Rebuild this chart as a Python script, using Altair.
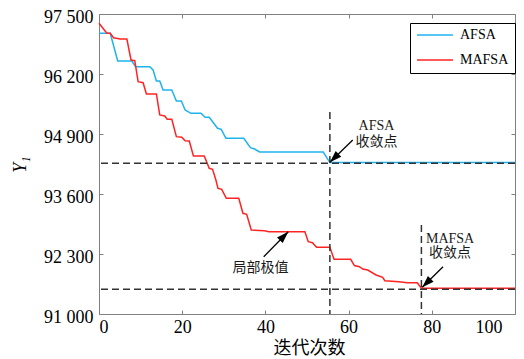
import math
import altair as alt
import pandas as pd

# ---------------- data ----------------
series_names = ["AFSA", "MAFSA"]
series_colors = ["#1FB3EE", "#FF2323"]

afsa_iter = [0, 2.7, 4.5, 7.9, 8.8, 12.2, 13.0, 13.8, 14.6, 15.4, 17.5, 18.6, 19.8, 20.7,
             22.1, 24.5, 25.5, 26.5, 28.5, 29.4, 30.5, 34.8, 36.4, 37.4, 38.6, 53.9, 55.5, 100]
afsa_val = [97082, 97082, 96482, 96482, 96358, 96358, 96287, 96048, 96048, 95853, 95853, 95615,
            95615, 95420, 95348, 95348, 95262, 95262, 95023, 95000, 94807, 94807, 94603, 94575,
            94510, 94510, 94280, 94280]

mafsa_iter = [0, 1.9, 2.7, 3.5, 5.1, 6.7, 7.7, 8.6, 9.4, 10.6, 11.4, 13.8, 14.6, 15.8, 16.4,
              17.5, 18.6, 19.9, 20.7, 21.7, 22.7, 25.3, 26.5, 27.3, 28.1, 28.6, 29.5, 30.6,
              33.6, 34.6, 35.5, 36.6, 39.8, 40.8, 49.5, 50.3, 51.3, 52.3, 55.5, 56.5, 60.5,
              61.4, 62.6, 63.4, 64.6, 66.6, 68.2, 68.7, 72.1, 74.1, 76.5, 77.5, 100]
mafsa_val = [97300, 97082, 97082, 96986, 96958, 96958, 96503, 96488, 96033, 96011, 95767, 95767,
             95312, 95290, 95218, 95218, 94842, 94829, 94755, 94748, 94423, 94423, 94157, 94135,
             93903, 93723, 93702, 93507, 93507, 93182, 93160, 92820, 92805, 92783, 92783, 92567,
             92545, 92445, 92445, 92185, 92185, 92050, 92025, 91975, 91953, 91845, 91795, 91722,
             91700, 91678, 91678, 91560, 91560]

x_ticks = [0, 20, 40, 60, 80, 100]
y_ticks = [91000, 92300, 93600, 94900, 96200, 97500]

hline_vals = [94265, 91535]
vline_iters = [55.5, 77.5]
vline_tops = [95377, 92928]

ann_text = ["AFSA", "收敛点", "局部极值", "MAFSA", "收敛点"]
ann_x = [66.7, 66.7, 38.8, 84.4, 84.4]
ann_y = [95073, 94733, 91997, 92618, 92315]

arrow_x0 = [61.0, 39.6, 82.7]
arrow_y0 = [94770, 92241, 92025]
arrow_x1 = [55.5, 45.5, 77.7]
arrow_y1 = [94287, 92783, 91578]

x_title = "迭代次数"
y_title = "Y₁"

# ---------------- styling ----------------
W, H = 416, 300
SERIF = "Liberation Serif, Noto Sans CJK SC"
GRAY = "#808080"
DASH = "#333333"

xs = alt.Scale(domain=[x_ticks[0], x_ticks[-1]], nice=False, zero=False)
ys = alt.Scale(domain=[y_ticks[0], y_ticks[-1]], nice=False, zero=False)

px_x = W / (x_ticks[-1] - x_ticks[0])
px_y = H / (y_ticks[-1] - y_ticks[0])
angles = []
for a0, b0, a1, b1 in zip(arrow_x0, arrow_y0, arrow_x1, arrow_y1):
    angles.append(math.degrees(math.atan2((a1 - a0) * px_x, (b1 - b0) * px_y)) % 360)

lines_df = pd.DataFrame({
    "iter": afsa_iter + mafsa_iter,
    "value": afsa_val + mafsa_val,
    "series": [series_names[0]] * len(afsa_iter) + [series_names[1]] * len(mafsa_iter),
})
vr_df = pd.DataFrame({"iter": vline_iters, "top": vline_tops,
                      "bottom": [y_ticks[0]] * len(vline_iters)})
hr_df = pd.DataFrame({"value": hline_vals})
ann_df = pd.DataFrame({"label": ann_text, "x": ann_x, "y": ann_y})
arr_df = pd.DataFrame({"x0": arrow_x0, "y0": arrow_y0, "x1": arrow_x1, "y1": arrow_y1,
                       "angle": angles})

lines = alt.Chart(lines_df).mark_line(strokeWidth=1.5).encode(
    x=alt.X("iter:Q", scale=xs, axis=alt.Axis(
        orient="bottom", values=x_ticks, ticks=False, tickSize=0, domain=False, grid=False,
        labelFont=SERIF, labelFontSize=18, labelColor="black", labelPadding=4,
        labelOffset={"condition": {"test": "datum.value == 100", "value": -13}, "value": 0},
        title=x_title, titleFont=SERIF, titleFontSize=18, titleFontWeight="normal",
        titleColor="black", titleX=210, titleY=34, titleBaseline="middle")),
    y=alt.Y("value:Q", scale=ys, axis=alt.Axis(
        orient="left", values=y_ticks, ticks=False, tickSize=0, domain=False, grid=False,
        labelExpr="replace(format(datum.value, ',d'), ',', ' ')",
        labelFont=SERIF, labelFontSize=18, labelColor="black", labelPadding=6, labelOffset=3,
        title=y_title, titleFont=SERIF, titleFontSize=18, titleFontWeight="normal",
        titleFontStyle="italic", titleColor="black", titleX=-79, titleY=150,
        titleBaseline="middle", titleAlign="center")),
    color=alt.Color("series:N", scale=alt.Scale(domain=series_names, range=series_colors),
                    legend=alt.Legend(
                        title=None, orient="none", legendX=311, legendY=9,
                        direction="vertical", symbolType="stroke", symbolSize=1296,
                        symbolStrokeWidth=1.5, labelFont=SERIF, labelFontSize=14,
                        labelColor="black", labelOffset=6, strokeColor="black",
                        fillColor="white", padding=6, clipHeight=12, rowPadding=11)),
)

vrules = alt.Chart(vr_df).mark_rule(strokeDash=[7, 4], strokeWidth=1.5, color=DASH).encode(
    x=alt.X("iter:Q", scale=xs, axis=alt.Axis(
        orient="top", offset=-H, values=x_ticks, labels=False, domain=False, grid=False,
        ticks=True, tickSize=4, tickColor=GRAY, title="")),
    y=alt.Y("top:Q", scale=ys, axis=alt.Axis(
        orient="right", offset=-W, values=y_ticks, labels=False, domain=False, grid=False,
        ticks=True, tickSize=4, tickColor=GRAY, title="")),
    y2="bottom:Q",
)

hrules = alt.Chart(hr_df).mark_rule(strokeDash=[7, 4], strokeWidth=1.5, color=DASH).encode(
    y=alt.Y("value:Q", scale=ys, axis=None),
)

arrow_lines = alt.Chart(arr_df).mark_rule(strokeWidth=1.3, color="black").encode(
    x=alt.X("x0:Q", scale=xs, axis=None),
    y=alt.Y("y0:Q", scale=ys, axis=None),
    x2="x1:Q",
    y2="y1:Q",
)

arrow_heads = alt.Chart(arr_df).mark_point(
    shape="M0,0L-0.4,1.2L0.4,1.2Z", filled=True, size=400, color="black", opacity=1
).encode(
    x=alt.X("x1:Q", scale=xs, axis=None),
    y=alt.Y("y1:Q", scale=ys, axis=None),
    angle=alt.Angle("angle:Q", scale=None),
)

texts = alt.Chart(ann_df).mark_text(font=SERIF, fontSize=14, color="#1a1a1a").encode(
    x=alt.X("x:Q", scale=xs, axis=alt.Axis(
        orient="bottom", offset=-H, values=x_ticks, labels=False, domain=False, grid=False,
        ticks=True, tickSize=4, tickColor=GRAY, title="")),
    y=alt.Y("y:Q", scale=ys, axis=alt.Axis(
        orient="left", offset=-W, values=y_ticks, labels=False, domain=False, grid=False,
        ticks=True, tickSize=4, tickColor=GRAY, title="")),
    text="label:N",
)

chart = alt.layer(lines, hrules, vrules, arrow_lines, arrow_heads, texts).resolve_axis(
    x="independent", y="independent"
).properties(
    width=W, height=H,
    padding={"left": 91, "top": 6, "right": 1, "bottom": 44},
    autosize=alt.AutoSizeParams(type="none"),
    background="white",
).configure_view(stroke=GRAY, strokeWidth=1)

chart.save("out.html", embed_options={"renderer": "svg", "actions": False})
